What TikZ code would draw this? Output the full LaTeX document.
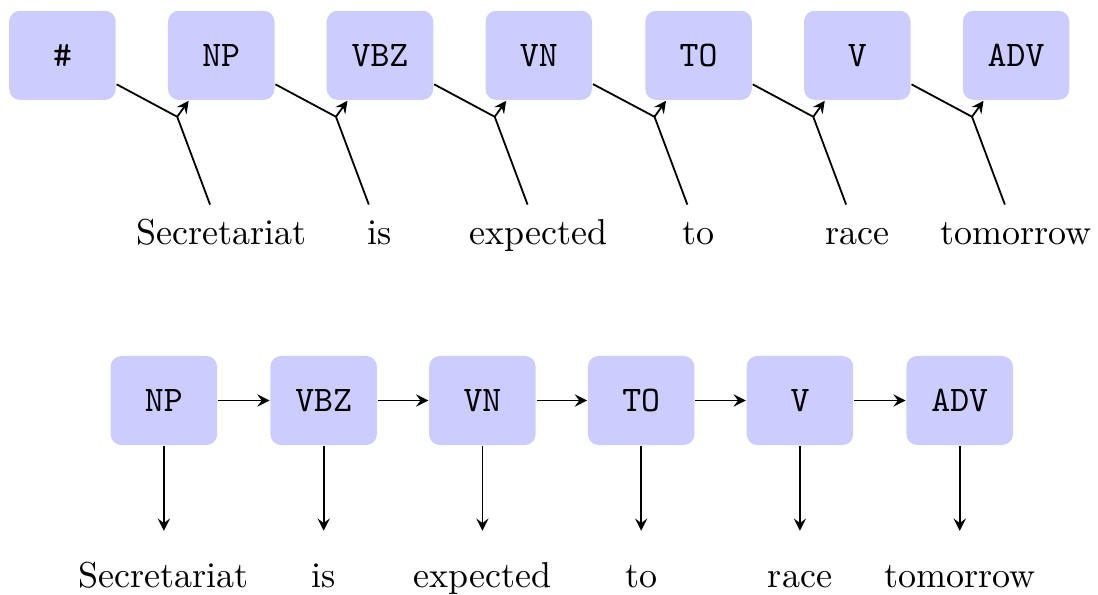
\documentclass[tikz,border=0pt]{standalone}
\begin{document}
\begin{tikzpicture}[>=stealth, line width=0.5pt]
\tikzstyle{tag}  = [rectangle, rounded corners=3pt, fill=blue!20, draw opacity=0, text centered, minimum height=0.87cm, minimum width=1.04cm, font=\ttfamily]
\tikzstyle{word} = [rectangle, text centered, text height=7.5pt, text depth=2pt]
\useasboundingbox (0.00, 0.00) rectangle (10.72, -5.80);
% first picture
\node[tag] at (0.61, -0.54) (0_s_0) {\#};
\node[tag] at (2.16, -0.54) (0_s_1) {NP};
\node[tag] at (3.71, -0.54) (0_s_2) {VBZ};
\node[tag] at (5.26, -0.54) (0_s_3) {VN};
\node[tag] at (6.82, -0.54) (0_s_4) {TO};
\node[tag] at (8.37, -0.54) (0_s_5) {V};
\node[tag] at (9.92, -0.54) (0_s_6) {ADV};
\coordinate (0_j_1) at (1.73, -1.14);
\coordinate (0_j_2) at (3.28, -1.14);
\coordinate (0_j_3) at (4.83, -1.14);
\coordinate (0_j_4) at (6.39, -1.14);
\coordinate (0_j_5) at (7.94, -1.14);
\coordinate (0_j_6) at (9.49, -1.14);
\node[word] at (2.16, -2.29) (0_w_1) {Secretariat};
\node[word] at (3.71, -2.29) (0_w_2) {is};
\node[word] at (5.26, -2.29) (0_w_3) {expected};
\node[word] at (6.82, -2.29) (0_w_4) {to};
\node[word] at (8.37, -2.29) (0_w_5) {race};
\node[word] at (9.92, -2.29) (0_w_6) {tomorrow};
\draw (0_s_0) -- (0_j_1) -- (0_w_1);
\draw[->] (0_j_1) -- (0_s_1);
\draw (0_s_1) -- (0_j_2) -- (0_w_2);
\draw[->] (0_j_2) -- (0_s_2);
\draw (0_s_2) -- (0_j_3) -- (0_w_3);
\draw[->] (0_j_3) -- (0_s_3);
\draw (0_s_3) -- (0_j_4) -- (0_w_4);
\draw[->] (0_j_4) -- (0_s_4);
\draw (0_s_4) -- (0_j_5) -- (0_w_5);
\draw[->] (0_j_5) -- (0_s_5);
\draw (0_s_5) -- (0_j_6) -- (0_w_6);
\draw[->] (0_j_6) -- (0_s_6);
% second picture
\node[tag] at (1.60, -3.91) (1_s_1) {NP};
\node[tag] at (3.16, -3.91) (1_s_2) {VBZ};
\node[tag] at (4.71, -3.91) (1_s_3) {VN};
\node[tag] at (6.26, -3.91) (1_s_4) {TO};
\node[tag] at (7.81, -3.91) (1_s_5) {V};
\node[tag] at (9.37, -3.91) (1_s_6) {ADV};
\node[word] at (1.60, -5.64) (1_w_1) {Secretariat};
\node[word] at (3.16, -5.64) (1_w_2) {is};
\node[word] at (4.71, -5.64) (1_w_3) {expected};
\node[word] at (6.26, -5.64) (1_w_4) {to};
\node[word] at (7.81, -5.64) (1_w_5) {race};
\node[word] at (9.37, -5.64) (1_w_6) {tomorrow};
\draw[->] (1_s_1) -- (1_s_2);
\draw[->] (1_s_2) -- (1_s_3);
\draw[->] (1_s_3) -- (1_s_4);
\draw[->] (1_s_4) -- (1_s_5);
\draw[->] (1_s_5) -- (1_s_6);
\draw[->, shorten >=4.7pt] (1_s_1) -- (1_w_1);
\draw[->, shorten >=4.7pt] (1_s_2) -- (1_w_2);
\draw[->, shorten >=4.7pt] (1_s_3) -- (1_w_3);
\draw[->, shorten >=4.7pt] (1_s_4) -- (1_w_4);
\draw[->, shorten >=4.7pt] (1_s_5) -- (1_w_5);
\draw[->, shorten >=4.7pt] (1_s_6) -- (1_w_6);
\end{tikzpicture}
\end{document}
